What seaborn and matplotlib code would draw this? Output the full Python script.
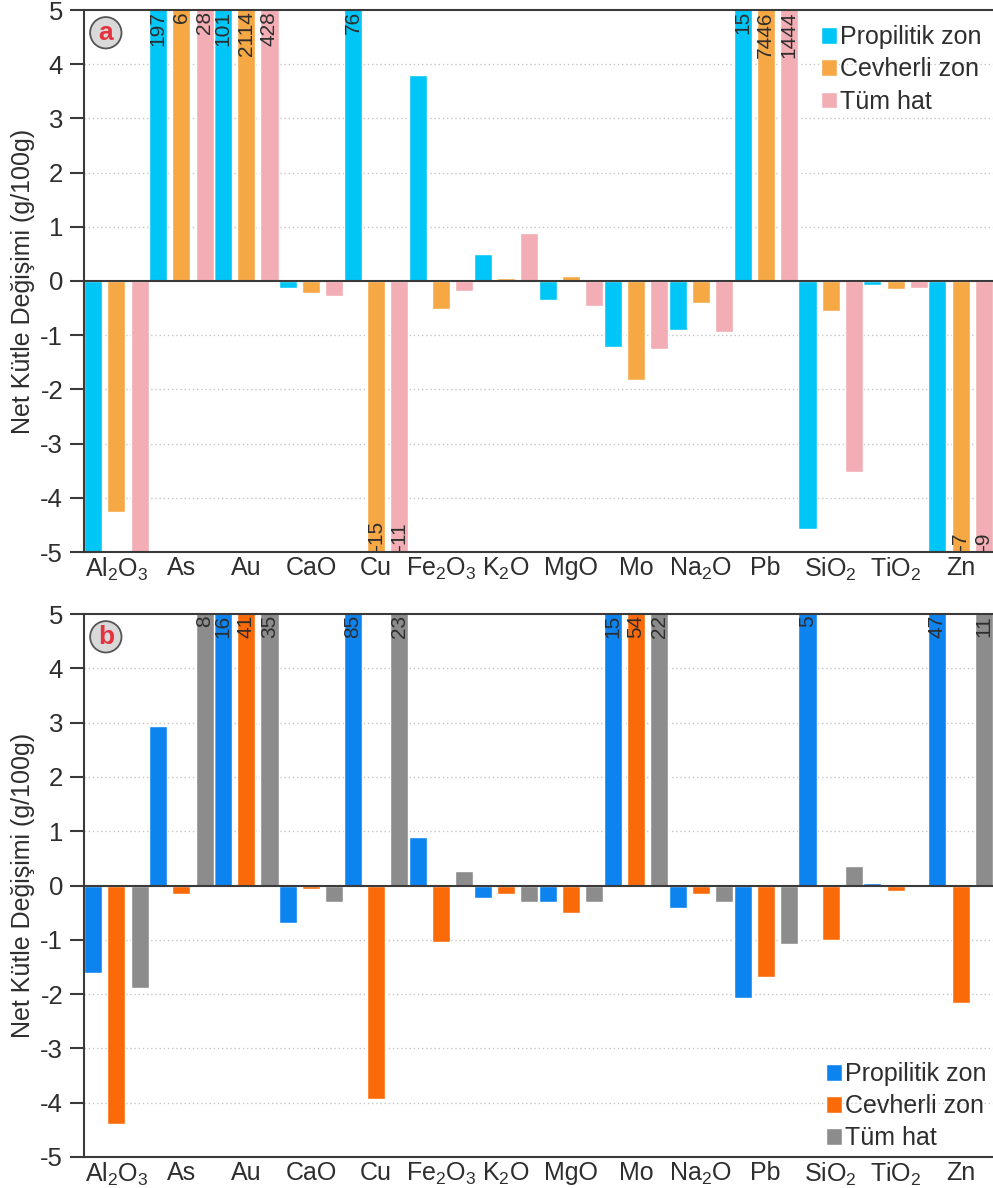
import numpy as np
import pandas as pd
import matplotlib
matplotlib.use("Agg")
import matplotlib.pyplot as plt
import seaborn as sns

# ---------------- data ----------------
elements = ["Al2O3", "As", "Au", "CaO", "Cu", "Fe2O3", "K2O", "MgO", "Mo",
            "Na2O", "Pb", "SiO2", "TiO2", "Zn"]
tick_labels = [r"Al$_\mathregular{2}$O$_\mathregular{3}$", "As", "Au", "CaO", "Cu",
               r"Fe$_\mathregular{2}$O$_\mathregular{3}$", r"K$_\mathregular{2}$O", "MgO", "Mo",
               r"Na$_\mathregular{2}$O", "Pb", r"SiO$_\mathregular{2}$",
               r"TiO$_\mathregular{2}$", "Zn"]
zones = ["Propilitik zon", "Cevherli zon", "Tüm hat"]

# panel a
a_propilitik = [-5.0, 197, 101, -0.12, 76, 3.80, 0.50, -0.35, -1.21, -0.90, 15, -4.57, -0.08, -5.0]
a_cevherli   = [-4.27, 6, 2114, -0.23, -15, -0.52, 0.06, 0.10, -1.83, -0.40, 7446, -0.55, -0.15, -7]
a_tumhat     = [-5.0, 28, 428, -0.27, -11, -0.19, 0.88, -0.47, -1.25, -0.94, 1444, -3.53, -0.12, -9]

# panel b
b_propilitik = [-1.62, 2.94, 16, -0.69, 85, 0.89, -0.23, -0.31, 15, -0.42, -2.08, 5.3, 0.04, 47]
b_cevherli   = [-4.39, -0.15, 41, -0.07, -3.94, -1.04, -0.15, -0.50, 54, -0.15, -1.69, -1.01, -0.11, -2.16]
b_tumhat     = [-1.89, 8, 35, -0.31, 23, 0.27, -0.31, -0.31, 22, -0.31, -1.08, 0.35, 0.0, 11]

pal_a = ["#00C6F7", "#F6A845", "#F2AEB4"]
pal_b = ["#0D83F0", "#FB6A09", "#8C8C8C"]

# ---------------- style ----------------
sns.set_style("white")
plt.rcParams["font.family"] = ["Liberation Sans", "DejaVu Sans"]
plt.rcParams["mathtext.fontset"] = "custom"
plt.rcParams["mathtext.rm"] = "Liberation Sans"
plt.rcParams["mathtext.it"] = "Liberation Sans:italic"
plt.rcParams["mathtext.bf"] = "Liberation Sans:bold"
plt.rcParams["axes.unicode_minus"] = False

TXT = "#2e2e2e"
SPINE = "#3a3a3a"

fig = plt.figure(figsize=(9.93, 11.88), dpi=100)
ax_a = fig.add_axes([84 / 993, 1 - 552 / 1188, 1 - 84 / 993, 542 / 1188])
ax_b = fig.add_axes([84 / 993, 1 - 1157 / 1188, 1 - 84 / 993, 543 / 1188])


def make_df(p, c, t):
    rows = []
    for vals, z in zip((p, c, t), zones):
        for e, v in zip(elements, vals):
            rows.append({"element": e, "zone": z, "value": v})
    return pd.DataFrame(rows)


def draw(ax, df, pal, letter, legend_loc, legend_anchor):
    sns.barplot(data=df, x="element", y="value", hue="zone", order=elements,
                hue_order=zones, palette=pal, width=1.07, gap=0.22,
                errorbar=None, saturation=1, ax=ax, legend=True, zorder=2)
    ax.set_ylim(-5, 5)
    ax.set_xlim(-0.5, 13.5)
    ax.set_yticks(range(-5, 6))
    ax.set_xticks(range(len(elements)))
    ax.set_xticklabels(tick_labels)
    ax.tick_params(axis="y", direction="out", length=10, width=1.5, color=SPINE,
                   labelsize=18.5, labelcolor=TXT, pad=5, left=True)
    ax.tick_params(axis="x", length=0, labelsize=18, labelcolor=TXT, pad=3)
    for yv in [-4, -3, -2, -1, 1, 2, 3, 4]:
        ax.axhline(yv, color="#c4c4c4", lw=1.0, ls=(0, (1, 2)), zorder=0)
    ax.axhline(0, color=SPINE, lw=1.5, zorder=3)
    for s in ["left", "top", "bottom"]:
        ax.spines[s].set_color(SPINE)
        ax.spines[s].set_linewidth(1.5)
    ax.spines["right"].set_visible(False)
    ax.set_xlabel("")
    ax.set_ylabel("Net Kütle Değişimi (g/100g)", fontsize=18, color=TXT)
    ax.yaxis.set_label_coords(-0.054, 0.5)

    # value labels for bars beyond the axis range
    for cont in ax.containers:
        for bar in cont:
            h = bar.get_height()
            xc = bar.get_x() + bar.get_width() / 2
            if h > 5:
                ax.text(xc, 4.98, f"{h:.0f}", rotation=90, ha="center", va="top",
                        fontsize=15, color=TXT, zorder=4)
            elif h < -5:
                ax.text(xc, -4.98, f"{h:.0f}", rotation=90, ha="center", va="bottom",
                        fontsize=15, color=TXT, zorder=4)

    ax.text(0.024, 0.958, letter, transform=ax.transAxes, ha="center", va="center",
            fontsize=19, fontweight="bold", color="#E5323E", zorder=5,
            bbox=dict(boxstyle="circle,pad=0.14", fc="#d9d9d9", ec="#555555", lw=1.3))

    handles, labels = ax.get_legend_handles_labels()
    ax.legend(handles, labels, loc=legend_loc, bbox_to_anchor=legend_anchor,
              frameon=False, fontsize=18, handlelength=0.65, handleheight=0.65,
              handletextpad=0.12, labelspacing=0.33, borderpad=0, borderaxespad=0,
              labelcolor=TXT)


draw(ax_a, make_df(a_propilitik, a_cevherli, a_tumhat), pal_a, "a",
     "upper left", (0.811, 0.972))
draw(ax_b, make_df(b_propilitik, b_cevherli, b_tumhat), pal_b, "b",
     "lower left", (0.816, 0.012))

fig.savefig("out.png", dpi=100)
